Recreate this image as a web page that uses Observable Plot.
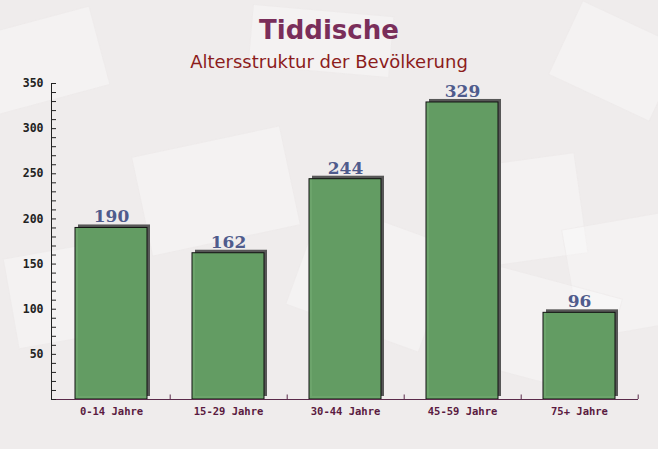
<!DOCTYPE html>
<html><head><meta charset="utf-8">
<script src="https://cdn.jsdelivr.net/npm/d3@7"></script>
<script src="https://cdn.jsdelivr.net/npm/@observablehq/plot@0.6"></script>
<style>
html,body{margin:0;padding:0;}
#wrap{position:relative;width:658px;height:449px;overflow:hidden;background:#efecec;}
.env{position:absolute;background:rgba(255,255,255,0.3);border:1px solid rgba(230,225,225,0.4);}
#head{position:relative;height:75px;text-align:center;}
#title{position:absolute;left:0;right:0;top:15px;font:bold 26px "DejaVu Sans",sans-serif;color:#7a2e5a;}
#sub{position:absolute;left:0;right:0;top:51px;font:18px "DejaVu Sans",sans-serif;color:#8c1c1c;}
#chart{position:relative;}
</style></head>
<body><div id="wrap">
<div class="env" style="left:-20px;top:20px;width:120px;height:80px;transform:rotate(-15deg)"></div>
<div class="env" style="left:140px;top:140px;width:150px;height:100px;transform:rotate(-12deg)"></div>
<div class="env" style="left:300px;top:220px;width:140px;height:110px;transform:rotate(20deg)"></div>
<div class="env" style="left:460px;top:160px;width:120px;height:100px;transform:rotate(-8deg)"></div>
<div class="env" style="left:560px;top:20px;width:110px;height:80px;transform:rotate(25deg)"></div>
<div class="env" style="left:570px;top:220px;width:100px;height:110px;transform:rotate(-10deg)"></div>
<div class="env" style="left:10px;top:250px;width:90px;height:90px;transform:rotate(-10deg)"></div>
<div class="env" style="left:480px;top:280px;width:130px;height:100px;transform:rotate(15deg)"></div>
<div class="env" style="left:250px;top:10px;width:140px;height:60px;transform:rotate(5deg)"></div>
<div id="head"><div id="title">Tiddische</div><div id="sub">Altersstruktur der Bevölkerung</div></div>
<div id="chart"></div>
</div>
<script>
const categories = ["0-14 Jahre","15-29 Jahre","30-44 Jahre","45-59 Jahre","75+ Jahre"];
const values = [190,162,244,329,96];
const yTicks = [50,100,150,200,250,300,350];
const yMinor = d3.range(0,351,10);

const data = categories.map((c,i)=>({cat:c, value:values[i]}));
const axisColor = "#5a2a4a";

const plot = Plot.plot({
  width: 658, height: 374,
  marginTop: 8, marginBottom: 50, marginLeft: 51, marginRight: 20,
  style: {background: "transparent", overflow: "visible"},
  x: {domain: categories, paddingInner: 0.385, paddingOuter: 0.19, label: null, axis: null},
  y: {domain: [0,350], label: null, axis: null},
  marks: [
    Plot.barY(data, {x:"cat", y:"value", fill:"#575757", dx:3, dy:-3}),
    Plot.barY(data, {x:"cat", y:"value", fill:"#64a064", fillOpacity:0.95, stroke:"#111", strokeWidth:1}),
    Plot.text(data, {x:"cat", y:"value", text: d=>String(d.value), dy:-11, fill:"#4f5b8c",
      fontFamily:"DejaVu Serif", fontWeight:"bold", fontSize:17}),
    Plot.ruleY([0], {stroke: axisColor, strokeWidth:1}),
    Plot.axisY({anchor:"left", ticks: yMinor, tickSize:-5, tickFormat: ()=>"", stroke:"#222"}),
    Plot.axisY({anchor:"left", ticks: yTicks, tickSize:0, tickPadding:8, fontFamily:"DejaVu Sans Mono", fontWeight:"bold", fontSize:11.5, fill:"#222"}),
    Plot.axisX({anchor:"bottom", tickSize:0, tickPadding:8, fontFamily:"DejaVu Sans Mono", fontWeight:"bold", fontSize:10.5, fill:"#5a1a40"}),
    Plot.ruleX(categories, {x: d=>d, dx: 58.7, y1:0, y2:5, stroke: axisColor}),
    Plot.frame({anchor:"left", stroke:"#222"})
  ]
});
document.getElementById("chart").appendChild(plot);
</script>
</body></html>
